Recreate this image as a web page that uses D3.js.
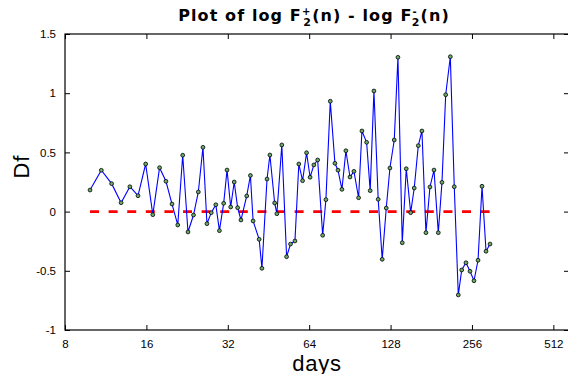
<!DOCTYPE html>
<html>
<head>
<script src="https://d3js.org/d3.v7.min.js"></script>
<style>
  body { margin: 0; background: #fff; }
  text { font-family: "Liberation Sans", Arial, sans-serif; }
</style>
</head>
<body>
<script>
// days (log2 axis) and the log-difference values
const days = [9.9, 10.9, 11.9, 12.9, 13.9, 14.9, 15.9, 16.9, 17.9, 18.9,
  19.9, 20.9, 21.8, 22.8, 23.9, 24.9, 25.9, 26.8, 27.8, 28.9,
  29.8, 30.9, 31.8, 32.8, 33.8, 34.8, 35.8, 37.6, 38.8, 39.7,
  41.8, 42.8, 44.7, 45.8, 47.7, 48.6, 50.7, 52.8, 54.6, 56.7,
  58.6, 60.5, 62.6, 64.5, 66.6, 68.8, 71.8, 73.8, 76.6, 79.7,
  81.8, 84.6, 87.5, 90.6, 93.7, 97.5, 100.3, 104.4, 107.6, 111.1,
  115.2, 119.2, 123.4, 127.3, 132.1, 136.3, 141.4, 146.3, 151.9, 156.6,
  162.1, 167.2, 173.0, 179.0, 185.3, 192.2, 198.3, 204.7, 212.9, 220.2,
  227.9, 234.6, 243.3, 251.8, 260.5, 269.6, 278.9, 288.6, 298.6];
const df = [0.182, 0.349, 0.236, 0.075, 0.210, 0.134, 0.402, -0.026, 0.371, 0.256,
  0.064, -0.113, 0.476, -0.172, -0.029, 0.166, 0.543, -0.102, -0.009, 0.058,
  -0.161, 0.070, 0.351, 0.039, 0.250, 0.033, -0.071, 0.132, 0.305, -0.079,
  -0.234, -0.479, 0.275, 0.478, 0.073, -0.018, 0.563, -0.381, -0.274, -0.248,
  0.402, 0.261, 0.497, 0.290, 0.394, 0.436, -0.200, 0.101, 0.932, 0.408,
  0.350, 0.188, 0.514, 0.292, 0.340, 0.117, 0.681, 0.585, 0.177, 1.019,
  0.104, -0.403, 0.030, 0.368, 0.605, 1.303, -0.263, 0.362, -0.009, 0.199,
  0.557, 0.681, -0.178, 0.208, 0.351, -0.178, 0.247, 0.987, 1.308, 0.210,
  -0.704, -0.493, -0.432, -0.504, -0.584, -0.411, 0.214, -0.335, -0.274];
const xTicks = [8, 16, 32, 64, 128, 256, 512];
const yTicks = [-1, -0.5, 0, 0.5, 1, 1.5];

const W = 568, H = 374;
const m = { left: 65, right: 569, top: 34, bottom: 330 };

const svg = d3.select("body").append("svg")
  .attr("width", W).attr("height", H);

const x = d3.scaleLog().base(2).domain([8, 585]).range([m.left, m.right]);
const y = d3.scaleLinear().domain([-1, 1.5]).range([m.bottom, m.top]);

// box
svg.append("rect")
  .attr("x", m.left).attr("y", m.top)
  .attr("width", m.right - m.left).attr("height", m.bottom - m.top)
  .attr("fill", "none").attr("stroke", "#000").attr("stroke-width", 1.2);

// axes, ticks pointing inward
const fmt = d => String(d);
svg.append("g").attr("transform", `translate(0,${m.bottom})`)
  .call(d3.axisBottom(x).tickValues(xTicks).tickFormat(fmt).tickSizeInner(-5).tickSizeOuter(0).tickPadding(10))
  .call(g => g.select(".domain").remove());
svg.append("g").attr("transform", `translate(0,${m.top})`)
  .call(d3.axisTop(x).tickValues(xTicks).tickFormat("").tickSizeInner(-5).tickSizeOuter(0))
  .call(g => g.select(".domain").remove());
svg.append("g").attr("transform", `translate(${m.left},0)`)
  .call(d3.axisLeft(y).tickValues(yTicks).tickFormat(fmt).tickSizeInner(-5).tickSizeOuter(0).tickPadding(9))
  .call(g => g.select(".domain").remove());
svg.append("g").attr("transform", `translate(${m.right},0)`)
  .call(d3.axisRight(y).tickValues(yTicks).tickFormat("").tickSizeInner(-5).tickSizeOuter(0))
  .call(g => g.select(".domain").remove());

svg.selectAll(".tick text")
  .attr("font-size", "11.5px")
  .attr("font-family", "Liberation Sans, Arial, sans-serif")
  .attr("fill", "#000");
svg.selectAll(".tick line").attr("stroke", "#000");

// zero reference line
svg.append("line")
  .attr("x1", x(d3.min(days))).attr("x2", x(d3.max(days)))
  .attr("y1", y(0)).attr("y2", y(0))
  .attr("stroke", "#ff0000").attr("stroke-width", 2.6)
  .attr("stroke-dasharray", "9,9.6");

const pts = days.map((d, i) => [d, df[i]]);

svg.append("path")
  .datum(pts)
  .attr("fill", "none")
  .attr("stroke", "#0000ff")
  .attr("stroke-width", 1.1)
  .attr("d", d3.line().x(d => x(d[0])).y(d => y(d[1])));

svg.selectAll("circle.pt")
  .data(pts).enter().append("circle")
  .attr("class", "pt")
  .attr("cx", d => x(d[0])).attr("cy", d => y(d[1]))
  .attr("r", 1.9)
  .attr("fill", "#6aaa6a")
  .attr("stroke", "#000").attr("stroke-width", 0.8);

// title with sub/superscripts
const title = svg.append("text")
  .attr("x", (m.left + m.right) / 2 - 3).attr("y", 21)
  .attr("text-anchor", "middle")
  .style("font-family", "'DejaVu Sans', sans-serif")
  .attr("font-size", "16px").attr("font-weight", "bold")
  .attr("letter-spacing", "1.1px");
title.append("tspan").text("Plot of log F");
title.append("tspan").attr("font-size", "10px").attr("dy", -6).text("+");
title.append("tspan").attr("font-size", "11px").attr("dx", -8).attr("dy", 11).text("2");
title.append("tspan").attr("dy", -5).text("(n) - log F");
title.append("tspan").attr("font-size", "10px").attr("dy", -6).text("-");
title.append("tspan").attr("font-size", "11px").attr("dx", -6).attr("dy", 11).text("2");
title.append("tspan").attr("dy", -5).text("(n)");

// axis labels
svg.append("text")
  .attr("x", (m.left + m.right) / 2).attr("y", 371)
  .attr("text-anchor", "middle").attr("font-size", "22px")
  .attr("letter-spacing", "0.8px")
  .text("days");
svg.append("text")
  .attr("transform", `translate(29,${y(0.38)}) rotate(-90)`)
  .attr("text-anchor", "middle").attr("font-size", "22px")
  .attr("letter-spacing", "0.8px")
  .text("Df");
</script>
</body>
</html>
